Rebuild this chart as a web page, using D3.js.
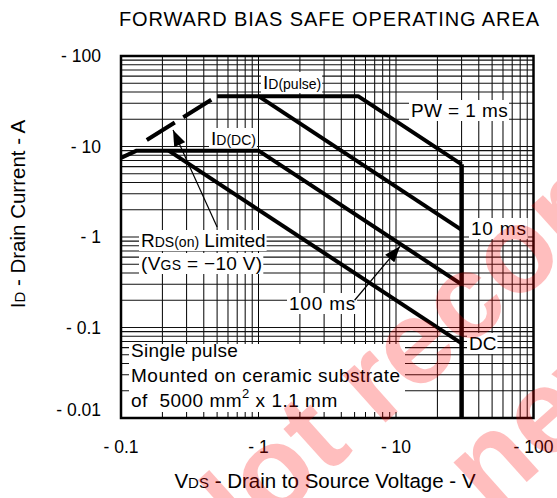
<!DOCTYPE html>
<html>
<head>
<meta charset="utf-8">
<script src="https://cdn.jsdelivr.net/npm/d3@7"></script>
<style>
  body { margin: 0; background: #fff; }
  text { font-family: "Liberation Sans", Arial, sans-serif; fill: #000; white-space: pre; }
</style>
</head>
<body>
<div id="chart"></div>
<script>
// Axis ticks (P-channel part, so voltages and currents are negative)
const xTicks = [-0.1, -1, -10, -100];
const yTicks = [-100, -10, -1, -0.1, -0.01];

// Boundary curves, [VDS (V), ID (A)]
const rdsLimit = [[-0.154, -11.8], [-0.5, -36]];
const pw1ms = [[-0.5, -36], [-5.3, -36], [-30, -6.35]];
const pw10ms = [[-1, -36], [-30, -1.2]];
const pw100ms = [[-0.1, -7.5], [-0.13, -9], [-1, -9], [-30, -0.3]];
const dcLine = [[-0.222, -9], [-30, -0.0667]];
const vdssLine = [[-30, -6.35], [-30, -0.01]];

// Annotation arrows, [tail, tip]
const rdsArrow = [[-0.5, -1.29], [-0.239, -15.2]];
const ms100Arrow = [[-5.0, -0.2], [-10.7, -0.79]];

const width = 557, height = 498;
const svg = d3.select("#chart").append("svg")
    .attr("width", width)
    .attr("height", height);

const x = d3.scaleLog().domain([-0.1, -100]).range([121, 533.5]);
const y = d3.scaleLog().domain([-100, -0.01]).range([56, 418]);

// grid values: 1..9 in every decade
const gridX = [];
xTicks.slice(0, -1).forEach(d => d3.range(1, 10).forEach(k => gridX.push(d * k)));
gridX.push(-100);
const gridY = [];
yTicks.slice(1).forEach(d => d3.range(1, 10).forEach(k => gridY.push(d * k)));
gridY.push(-100);

const grid = svg.append("g");
grid.selectAll(".gx").data(gridX).enter().append("line")
    .attr("x1", d => x(d)).attr("x2", d => x(d))
    .attr("y1", y.range()[0]).attr("y2", y.range()[1])
    .attr("stroke", "#000").attr("stroke-width", 1);
grid.selectAll(".gy").data(gridY).enter().append("line")
    .attr("y1", d => y(d)).attr("y2", d => y(d))
    .attr("x1", x.range()[0]).attr("x2", x.range()[1])
    .attr("stroke", "#111").attr("stroke-width", 1.1);

const bgLayer = svg.append("g");
const curveLayer = svg.append("g");
const textLayer = svg.append("g");

// label with white backing that hides the grid; parts = [text, size]
function label(px, py, parts, spacing) {
    const t = textLayer.append("text")
        .attr("x", px).attr("y", py)
        .style("letter-spacing", (spacing || 0) + "px");
    parts.forEach(p => {
        t.append("tspan").attr("font-size", p[1]).text(p[0]);
    });
    const b = t.node().getBBox();
    bgLayer.append("rect")
        .attr("x", b.x - 2).attr("y", b.y)
        .attr("width", b.width + 3).attr("height", b.height)
        .attr("fill", "#fff");
    return t;
}

// note box in the lower left
bgLayer.append("rect")
    .attr("x", 129).attr("y", 344).attr("width", 276).attr("height", 68)
    .attr("fill", "#fff");

const line = d3.line().x(d => x(d[0])).y(d => y(d[1]));

[pw1ms, pw10ms, pw100ms, dcLine].forEach(s => {
    curveLayer.append("path")
        .attr("d", line(s))
        .attr("fill", "none")
        .attr("stroke", "#000")
        .attr("stroke-width", 4)
        .attr("stroke-linejoin", "round");
});
curveLayer.append("path")
    .attr("d", line(vdssLine))
    .attr("fill", "none").attr("stroke", "#000").attr("stroke-width", 4.5);
curveLayer.append("path")
    .attr("d", line(rdsLimit))
    .attr("fill", "none").attr("stroke", "#000").attr("stroke-width", 4)
    .attr("stroke-dasharray", "33,10");

// arrow heads
svg.append("defs").append("marker")
    .attr("id", "head")
    .attr("markerUnits", "userSpaceOnUse")
    .attr("viewBox", "0 0 16 12")
    .attr("refX", 16).attr("refY", 6)
    .attr("markerWidth", 17).attr("markerHeight", 12)
    .attr("orient", "auto")
    .append("path").attr("d", "M0,0L16,6L0,12Z").attr("fill", "#000");

[rdsArrow, ms100Arrow].forEach(a => {
    curveLayer.append("path")
        .attr("d", line(a))
        .attr("stroke", "#000").attr("stroke-width", 1.2)
        .attr("marker-end", "url(#head)");
});

// curve labels
label(263, 89, [["I", 19], ["D(pulse)", 14]]);
label(411, 117, [["PW = 1 ms", 19]], 0.4);
label(211, 145, [["I", 19], ["D(DC)", 14]]);
label(471, 235, [["10 ms", 19]], 0.8);
label(141, 247, [["R", 19], ["DS(on)", 14], [" Limited", 19]]);
label(141, 270, [["(V", 19], ["GS", 14], [" = \u221210 V)", 19]], 0.3);
label(289, 310, [["100 ms", 19]], 0.8);
label(469, 350, [["DC", 19]]);

// note text
textLayer.append("text").attr("x", 131).attr("y", 357).attr("font-size", 19)
    .style("letter-spacing", "0.3px").text("Single pulse");
textLayer.append("text").attr("x", 131).attr("y", 382).attr("font-size", 19)
    .style("letter-spacing", "0.5px").text("Mounted on ceramic substrate");
const note3 = textLayer.append("text").attr("x", 131).attr("y", 407).attr("font-size", 19)
    .style("letter-spacing", "0.5px");
note3.append("tspan").text("of  5000 mm");
note3.append("tspan").attr("font-size", 13).attr("dy", -9).text("2");
note3.append("tspan").attr("dy", 9).text(" x 1.1 mm");

// frame
svg.append("rect")
    .attr("x", x.range()[0]).attr("y", y.range()[0])
    .attr("width", x.range()[1] - x.range()[0])
    .attr("height", y.range()[1] - y.range()[0])
    .attr("fill", "none").attr("stroke", "#000").attr("stroke-width", 2.5);

const fmt = d => "- " + Math.abs(d);

// tick labels
svg.selectAll(".xt").data(xTicks).enter().append("text")
    .attr("x", d => x(d)).attr("y", 453)
    .attr("text-anchor", "middle").attr("font-size", 17.5)
    .text(fmt);
svg.selectAll(".yt").data(yTicks).enter().append("text")
    .attr("x", 101)
    .attr("y", d => d === -0.01 ? y(d) - 2 : y(d) + 6)
    .attr("text-anchor", "end").attr("font-size", 17.5)
    .text(fmt);

// titles
svg.append("text")
    .attr("x", 329).attr("y", 26)
    .attr("text-anchor", "middle").attr("font-size", 20)
    .attr("textLength", 420).attr("lengthAdjust", "spacing")
    .text("FORWARD BIAS SAFE OPERATING AREA");

const xTitle = svg.append("text")
    .attr("x", 325).attr("y", 488)
    .attr("text-anchor", "middle").attr("font-size", 20.5);
xTitle.append("tspan").text("V");
xTitle.append("tspan").attr("font-size", 15).text("DS");
xTitle.append("tspan").text(" - Drain to Source Voltage - V");

const yTitle = svg.append("text")
    .attr("transform", "translate(25,214) rotate(-90)")
    .attr("text-anchor", "middle").attr("font-size", 20.5);
yTitle.append("tspan").text("I");
yTitle.append("tspan").attr("font-size", 15).text("D");
yTitle.append("tspan").text(" - Drain Current - A");

// watermark
const wm = svg.append("g").attr("opacity", 0.25);
wm.append("text")
    .attr("transform", "translate(206,584) rotate(-42)")
    .attr("font-size", 120).attr("font-weight", "bold")
    .style("fill", "#f00")
    .text("Not recommended");
wm.append("text")
    .attr("transform", "translate(490,515) rotate(-42)")
    .attr("font-size", 120).attr("font-weight", "bold")
    .style("fill", "#f00")
    .text("new design");
</script>
</body>
</html>
